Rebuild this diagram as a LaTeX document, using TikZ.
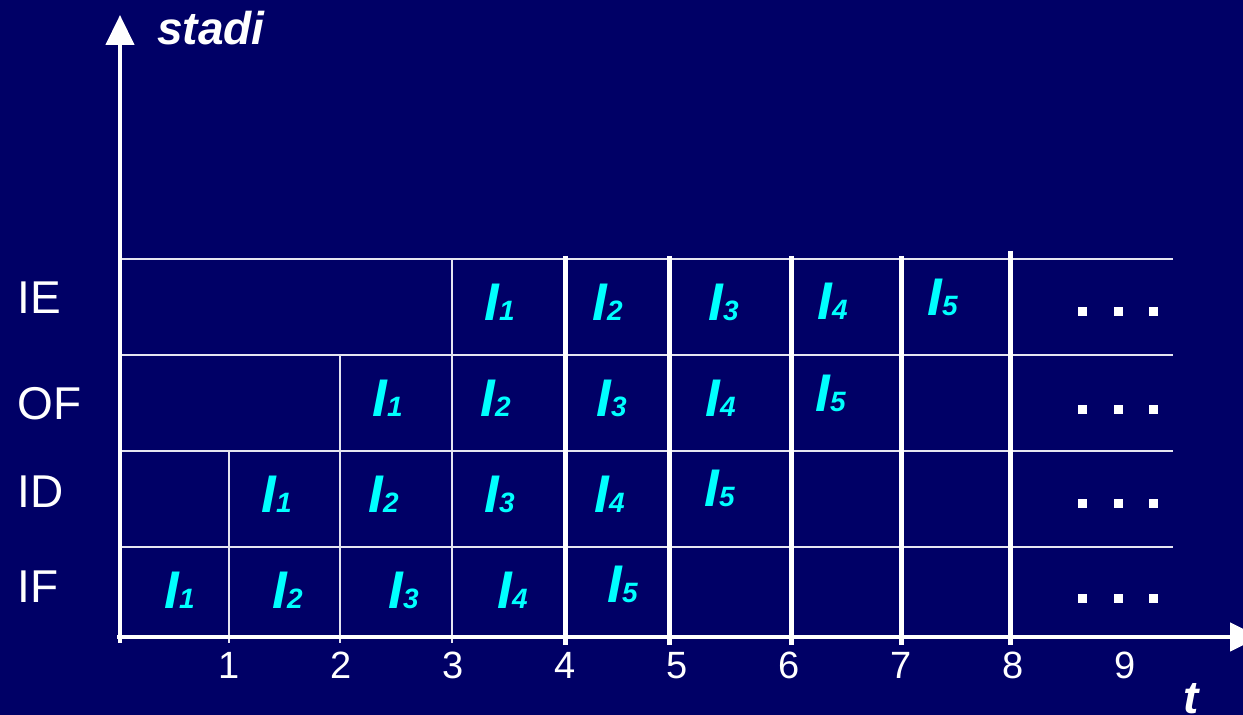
\documentclass[tikz,border=0pt]{standalone}
\usepackage{fontspec}
\setmainfont{Liberation Sans}
\usepackage{xcolor}
\usepackage{tikz}
\usetikzlibrary{positioning, arrows.meta}

\definecolor{slidebg}{HTML}{000066}
\definecolor{instrcyan}{HTML}{00FFFF}
\definecolor{gridline}{HTML}{E4E4F0}

% I with a small index, as in the pipeline table
\newcommand{\instr}[1]{{\fontsize{26.5}{28}\selectfont I}{\fontsize{14}{16}\selectfont #1}}

\begin{document}
\begin{tikzpicture}[x=0.5pt, y=-0.5pt,
    stage/.style={text=white, font=\fontsize{23}{26}\selectfont, anchor=base west, inner sep=0pt},
    instr/.style={text=instrcyan, font=\bfseries\itshape, anchor=base west, inner sep=0pt},
    tick/.style={text=white, font=\fontsize{19}{22}\selectfont, anchor=base, inner sep=0pt},
    axislabel/.style={text=white, font=\fontsize{23}{26}\selectfont\bfseries\itshape, anchor=base west, inner sep=0pt},
    thinline/.style={draw=gridline, line width=1pt},
    thickline/.style={draw=white, line width=2.5pt},
    axis/.style={draw=white, line width=2.2pt, -{Triangle[length=15pt, width=14pt]}},
    dot/.style={fill=white, minimum size=4.5pt, inner sep=0pt}]
    \fill[slidebg] (0,0) rectangle (1243,715);
    \useasboundingbox (0,0) rectangle (1243,715);

    % grid of the table
    \draw[thinline] (120,259) -- (1173,259);
    \draw[thinline] (120,355) -- (1173,355);
    \draw[thinline] (120,451) -- (1173,451);
    \draw[thinline] (120,547) -- (1173,547);
    \draw[thinline] (229,451) -- (229,643);
    \draw[thinline] (340,355) -- (340,643);
    \draw[thinline] (452,259) -- (452,643);
    \draw[thickline] (565,256) -- (565,645);
    \draw[thickline] (669,256) -- (669,645);
    \draw[thickline] (791,256) -- (791,645);
    \draw[thickline] (901,256) -- (901,645);
    \draw[thickline] (1010,251) -- (1010,645);

    % axes
    \coordinate (origin) at (120,643);
    \coordinate (ytop) at (120,15);
    \coordinate (tstart) at (117,637);
    \coordinate (tend) at (1260,637);
    \draw[axis] (origin) -- (ytop);
    \draw[axis] (tstart) -- (tend);
    \node[axislabel] (stadi) at (157,45) {stadi};
    \node[axislabel] (tlab) at (1183,714) {t};

    % stages
    \node[stage] (ie) at (17,314) {IE};
    \node[stage] (of) at (17,420) {OF};
    \node[stage] (id) at (17,508) {ID};
    \node[stage] (if) at (17,603) {IF};

    % time ticks
    \node[tick] (t1) at (229,679) {1};
    \node[tick] (t2) at (341,679) {2};
    \node[tick] (t3) at (453,679) {3};
    \node[tick] (t4) at (565,679) {4};
    \node[tick] (t5) at (677,679) {5};
    \node[tick] (t6) at (789,679) {6};
    \node[tick] (t7) at (901,679) {7};
    \node[tick] (t8) at (1013,679) {8};
    \node[tick] (t9) at (1125,679) {9};

    % instructions in IE
    \node[instr] (ie1) at (484,321) {\instr{1}};
    \node[instr] (ie2) at (592,321) {\instr{2}};
    \node[instr] (ie3) at (708,321) {\instr{3}};
    \node[instr] (ie4) at (817,320) {\instr{4}};
    \node[instr] (ie5) at (927,316) {\instr{5}};
    % instructions in OF
    \node[instr] (of1) at (372,417) {\instr{1}};
    \node[instr] (of2) at (480,417) {\instr{2}};
    \node[instr] (of3) at (596,417) {\instr{3}};
    \node[instr] (of4) at (705,417) {\instr{4}};
    \node[instr] (of5) at (815,412) {\instr{5}};
    % instructions in ID
    \node[instr] (id1) at (261,513) {\instr{1}};
    \node[instr] (id2) at (368,513) {\instr{2}};
    \node[instr] (id3) at (484,513) {\instr{3}};
    \node[instr] (id4) at (594,513) {\instr{4}};
    \node[instr] (id5) at (704,507) {\instr{5}};
    % instructions in IF
    \node[instr] (if1) at (164,609) {\instr{1}};
    \node[instr] (if2) at (272,609) {\instr{2}};
    \node[instr] (if3) at (388,609) {\instr{3}};
    \node[instr] (if4) at (497,609) {\instr{4}};
    \node[instr] (if5) at (607,603) {\instr{5}};

    % continuation dots
    \node[dot] (ied1) at (1082,312) {};
    \node[dot] (ied2) at (1118,312) {};
    \node[dot] (ied3) at (1153,312) {};
    \node[dot] (ofd1) at (1082,410) {};
    \node[dot] (ofd2) at (1118,410) {};
    \node[dot] (ofd3) at (1153,410) {};
    \node[dot] (idd1) at (1082,504) {};
    \node[dot] (idd2) at (1118,504) {};
    \node[dot] (idd3) at (1153,504) {};
    \node[dot] (ifd1) at (1082,599) {};
    \node[dot] (ifd2) at (1118,599) {};
    \node[dot] (ifd3) at (1153,599) {};
\end{tikzpicture}
\end{document}
